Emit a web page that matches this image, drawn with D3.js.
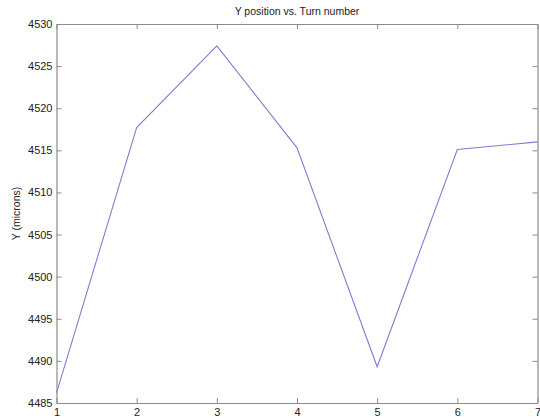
<!DOCTYPE html>
<html>
<head>
<meta charset="utf-8">
<script src="https://cdn.jsdelivr.net/npm/d3@7"></script>
<style>
  html, body { margin: 0; padding: 0; background: #fff; }
  svg { display: block; }
  text { font-family: "Liberation Sans", Arial, sans-serif; fill: #222; }
</style>
</head>
<body>
<svg id="chart" width="540" height="418"></svg>
<script>
// Turn number and measured Y position
const turns = [1, 2, 3, 4, 5, 6, 7];
const yPositions = [4486.2, 4517.7, 4527.4, 4515.3, 4489.3, 4515.1, 4516.0];
const xTicks = [1, 2, 3, 4, 5, 6, 7];
const yTicks = [4485, 4490, 4495, 4500, 4505, 4510, 4515, 4520, 4525, 4530];

const W = 540, H = 418;
const margin = { left: 56.5, right: 2.5, top: 24, bottom: 15 };
const svg = d3.select("#chart");

const x = d3.scaleLinear().domain([1, 7]).range([margin.left, W - margin.right]);
const y = d3.scaleLinear().domain([4485, 4530]).range([H - margin.bottom, margin.top]);

const axisColor = "#8c8c8c";
const tickLen = 5;

function styleAxis(g, showLabels) {
  g.select(".domain").attr("stroke", axisColor).attr("stroke-width", 1.2);
  g.selectAll(".tick line").attr("stroke", axisColor).attr("stroke-width", 1);
  g.selectAll(".tick text").style("font-size", "11px").attr("fill", "#222");
  if (!showLabels) g.selectAll(".tick text").remove();
}

// Bottom axis with labels, ticks pointing inward
svg.append("g")
  .attr("transform", `translate(0,${y(4485)})`)
  .call(d3.axisBottom(x).tickValues(xTicks).tickFormat(d3.format("d"))
    .tickSizeInner(-tickLen).tickSizeOuter(0).tickPadding(5))
  .call(g => styleAxis(g, true));

// Top axis (box edge), ticks only
svg.append("g")
  .attr("transform", `translate(0,${y(4530)})`)
  .call(d3.axisTop(x).tickValues(xTicks).tickSizeInner(-tickLen).tickSizeOuter(0))
  .call(g => styleAxis(g, false));

// Left axis with labels
svg.append("g")
  .attr("transform", `translate(${x(1)},0)`)
  .call(d3.axisLeft(y).tickValues(yTicks).tickFormat(d3.format("d"))
    .tickSizeInner(-tickLen).tickSizeOuter(0).tickPadding(4))
  .call(g => styleAxis(g, true));

// Right axis (box edge), ticks only
svg.append("g")
  .attr("transform", `translate(${x(7)},0)`)
  .call(d3.axisRight(y).tickValues(yTicks).tickSizeInner(-tickLen).tickSizeOuter(0))
  .call(g => styleAxis(g, false));

// Data line
const line = d3.line().x((d, i) => x(turns[i])).y(d => y(d));
svg.append("path")
  .datum(yPositions)
  .attr("d", line)
  .attr("fill", "none")
  .attr("stroke", "#7e7ed2")
  .attr("stroke-width", 1.1);

// Title
svg.append("text")
  .attr("x", (x(1) + x(7)) / 2)
  .attr("y", 15)
  .attr("text-anchor", "middle")
  .style("font-size", "10.5px")
  .text("Y position vs. Turn number");

// Y axis label
svg.append("text")
  .attr("transform", `translate(20,${(y(4485) + y(4530)) / 2}) rotate(-90)`)
  .attr("text-anchor", "middle")
  .style("font-size", "10.5px")
  .text("Y (microns)");
</script>
</body>
</html>
